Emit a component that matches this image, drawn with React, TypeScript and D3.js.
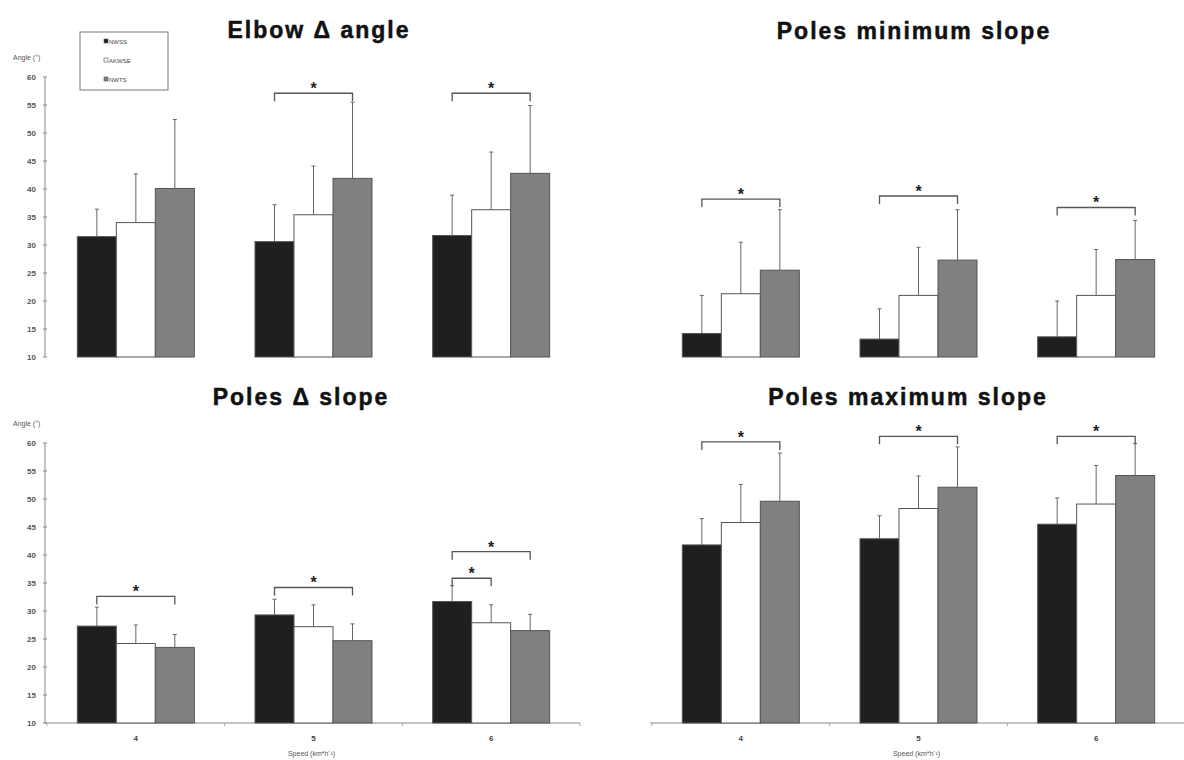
import React from "react";
import * as d3 from "d3";

const speeds = ["4", "5", "6"];
const seriesNames = ["NWSS", "AKWSE", "NWTS"];
const seriesFill = ["#1f1f1f", "#ffffff", "#808080"];
const yTicks = [10, 15, 20, 25, 30, 35, 40, 45, 50, 55, 60];

// [series][speed]
const elbowMeans = [[31.5, 30.6, 31.7], [34.0, 35.4, 36.3], [40.1, 41.9, 42.8]];
const elbowSD = [[4.9, 6.6, 7.2], [8.7, 8.7, 10.3], [12.3, 13.6, 12.1]];
const elbowSig = [{ speed: "5", from: 0, to: 2, level: 57.1 }, { speed: "6", from: 0, to: 2, level: 57.1 }];

const minMeans = [[14.2, 13.2, 13.6], [21.3, 21.0, 21.0], [25.5, 27.3, 27.4]];
const minSD = [[6.8, 5.4, 6.4], [9.2, 8.6, 8.2], [10.8, 9.0, 7.0]];
const minSig = [{ speed: "4", from: 0, to: 2, level: 38.2 }, { speed: "5", from: 0, to: 2, level: 38.75 }, { speed: "6", from: 0, to: 2, level: 36.7 }];

const deltaMeans = [[27.3, 29.3, 31.7], [24.2, 27.2, 27.9], [23.5, 24.7, 26.5]];
const deltaSD = [[3.4, 2.8, 2.8], [3.3, 3.9, 3.2], [2.3, 3.0, 2.9]];
const deltaSig = [{ speed: "4", from: 0, to: 2, level: 32.6 }, { speed: "5", from: 0, to: 2, level: 34.2 }, { speed: "6", from: 0, to: 1, level: 35.85 }, { speed: "6", from: 0, to: 2, level: 40.6 }];

const maxMeans = [[41.8, 42.9, 45.5], [45.8, 48.3, 49.1], [49.6, 52.1, 54.2]];
const maxSD = [[4.7, 4.1, 4.7], [6.8, 5.8, 6.9], [8.6, 7.2, 5.7]];
const maxSig = [{ speed: "4", from: 0, to: 2, level: 60.2 }, { speed: "5", from: 0, to: 2, level: 61.2 }, { speed: "6", from: 0, to: 2, level: 61.2 }];

const FONT = "Liberation Sans, Arial, sans-serif";

type Sig = { speed: string; from: number; to: number; level: number };
type PanelProps = {
  x0: number; x1: number; yBottom: number; yTopPx: number;
  title: string; titleX: number; titleY: number;
  yAxis: boolean; xAxis: boolean;
  means: number[][]; sds: number[][]; sigs: Sig[];
};

function Panel(p: PanelProps) {
  const x = d3.scaleBand().domain(speeds).range([p.x0, p.x1]);
  const sub = d3.scaleBand().domain(seriesNames).range([-58.5, 58.5]);
  const y = d3.scaleLinear().domain([10, 60]).range([p.yBottom, p.yTopPx]);
  const center = (s: number, sp: string) => (x(sp) as number) + x.bandwidth() / 2 + (sub(seriesNames[s]) as number) + sub.bandwidth() / 2;
  return (
    <g>
      <text x={p.titleX} y={p.titleY} textAnchor="middle" fontFamily={FONT} fontWeight="bold" fontSize={23} letterSpacing={2} fill="#111" stroke="#111" strokeWidth={0.5}>{p.title}</text>
      {p.yAxis && (
        <g>
          <line x1={45} x2={45} y1={y(60)} y2={y(10)} stroke="#888" strokeWidth={1} />
          {yTicks.map((t) => (
            <g key={t}>
              <line x1={43} x2={47} y1={y(t)} y2={y(t)} stroke="#888" />
              <text x={36} y={y(t) + 3} textAnchor="end" fontFamily={FONT} fontSize={8} fontWeight="bold" fill="#555">{t}</text>
            </g>
          ))}
          <text x={13} y={y(60) - 17} fontFamily={FONT} fontSize={7} fill="#555">Angle (°)</text>
        </g>
      )}
      {p.xAxis && (
        <g>
          <line x1={p.x0 - 2} x2={p.x1} y1={y(10)} y2={y(10)} stroke="#888" />
          {[0, 1, 2, 3].map((i) => (
            <line key={i} x1={p.x0 + i * x.step()} x2={p.x0 + i * x.step()} y1={y(10)} y2={y(10) + 3} stroke="#aaa" />
          ))}
          {speeds.map((sp) => (
            <text key={sp} x={(x(sp) as number) + x.bandwidth() / 2} y={y(10) + 18} textAnchor="middle" fontFamily={FONT} fontSize={8} fontWeight="bold" fill="#444">{sp}</text>
          ))}
          <text x={(p.x0 + p.x1) / 2 - 2} y={y(10) + 33} textAnchor="middle" fontFamily={FONT} fontSize={7} fill="#555">Speed (km*h⁻¹)</text>
        </g>
      )}
      {p.means.map((row, s) =>
        row.map((m, i) => {
          const sp = speeds[i];
          const cx = center(s, sp);
          const top = y(m + p.sds[s][i]);
          return (
            <g key={`${s}-${i}`}>
              <line x1={cx} x2={cx} y1={y(m)} y2={top} stroke="#666" strokeWidth={1} />
              <line x1={cx - 2} x2={cx + 2} y1={top} y2={top} stroke="#666" strokeWidth={1} />
              <rect x={cx - sub.bandwidth() / 2} y={y(m)} width={sub.bandwidth()} height={y(10) - y(m)} fill={seriesFill[s]} stroke="#555" strokeWidth={1} />
            </g>
          );
        })
      )}
      {p.sigs.map((g, k) => {
        const xa = center(g.from, g.speed);
        const xb = center(g.to, g.speed);
        const yl = y(g.level);
        return (
          <g key={k}>
            <path d={`M${xa},${yl + 8}V${yl}H${xb}V${yl + 8}`} fill="none" stroke="#555" strokeWidth={1.3} />
            <text x={(xa + xb) / 2} y={yl + 1} textAnchor="middle" fontFamily={FONT} fontWeight="bold" fontSize={16} fill="#222">*</text>
          </g>
        );
      })}
    </g>
  );
}

export default function App() {
  return (
    <svg width={1184} height={760} style={{ position: "absolute", left: 0, top: 0, background: "#fff" }}>
      <rect width={1184} height={760} fill="#fff" />
      <Panel x0={47} x1={580} yBottom={357} yTopPx={77} title="Elbow Δ angle" titleX={319} titleY={38} yAxis xAxis={false} means={elbowMeans} sds={elbowSD} sigs={elbowSig} />
      <Panel x0={652} x1={1185} yBottom={357} yTopPx={77} title="Poles minimum slope" titleX={914} titleY={39} yAxis={false} xAxis={false} means={minMeans} sds={minSD} sigs={minSig} />
      <Panel x0={47} x1={580} yBottom={723} yTopPx={443} title="Poles Δ slope" titleX={301} titleY={405} yAxis xAxis means={deltaMeans} sds={deltaSD} sigs={deltaSig} />
      <Panel x0={652} x1={1185} yBottom={723} yTopPx={443} title="Poles maximum slope" titleX={908} titleY={405} yAxis={false} xAxis means={maxMeans} sds={maxSD} sigs={maxSig} />
      <g>
        <rect x={80} y={32} width={88} height={58} fill="#fff" stroke="#777" strokeWidth={1} />
        {seriesNames.map((n, i) => (
          <g key={n}>
            <rect x={104} y={39 + i * 19} width={4} height={4} fill={seriesFill[i]} stroke="#555" strokeWidth={0.6} />
            <text x={109} y={44 + i * 19} fontFamily={FONT} fontSize={6} fill="#444">{n}</text>
          </g>
        ))}
      </g>
    </svg>
  );
}
